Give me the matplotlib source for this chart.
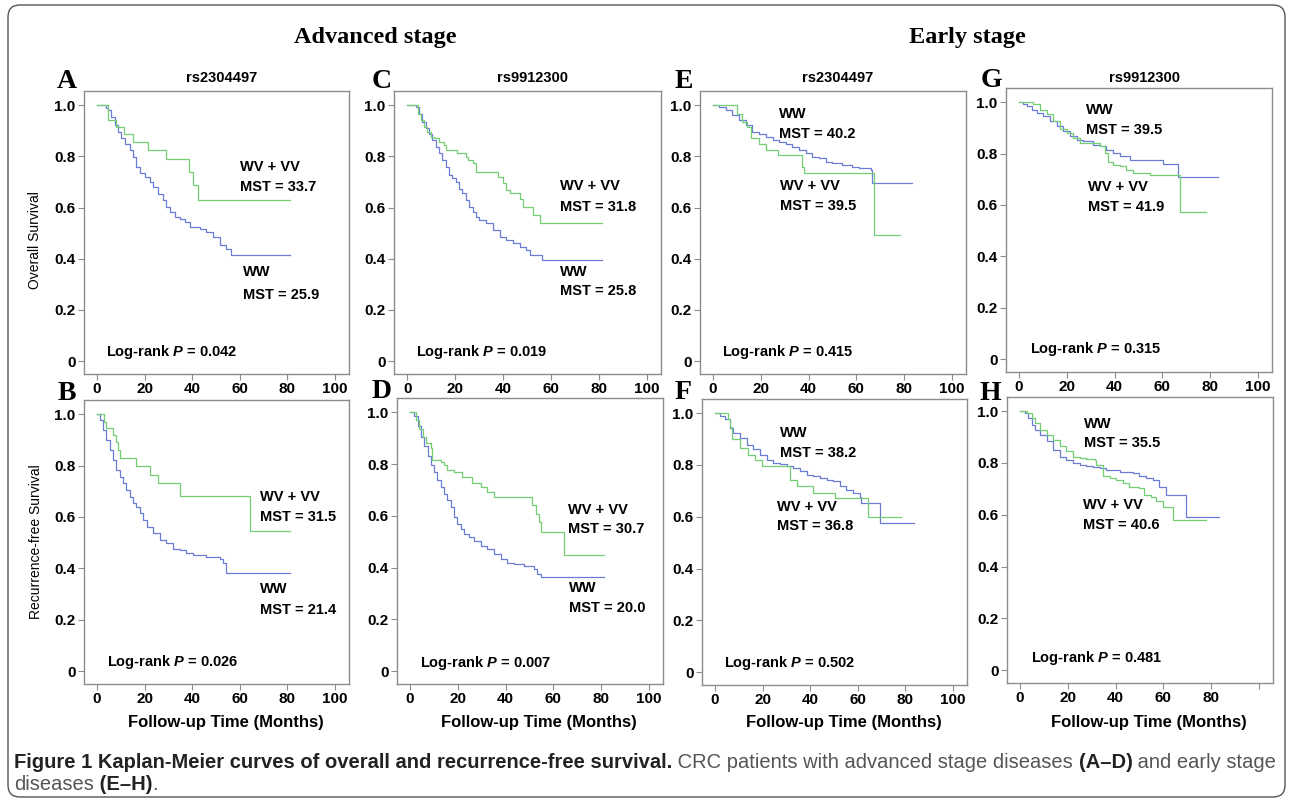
"""Kaplan-Meier curves (overall / recurrence-free survival) for two SNPs, advanced vs early stage."""

import matplotlib
matplotlib.use("Agg")  # headless
import matplotlib.pyplot as plt
from matplotlib.patches import FancyBboxPatch

plt.rcParams["font.family"] = ["Liberation Sans", "DejaVu Sans"]
plt.rcParams["mathtext.fontset"] = "custom"
plt.rcParams["mathtext.it"] = "Liberation Sans:italic:bold"
plt.rcParams["mathtext.rm"] = "Liberation Sans:bold"

W, H = 1292, 801
GREEN = "#74cf74"
BLUE = "#6a7cd6"
GRAY = "#8c8c8c"
SERIF = ["Liberation Serif", "DejaVu Serif"]
NARROW = ["Liberation Sans Narrow", "Liberation Sans", "DejaVu Sans"]

# ---- survival steps (time in months, survival after the step) ----
a_wv_t = [0, 4.6, 7.9, 11.2, 15.1, 21.5, 28.8, 38.7, 40.4, 42.5, 81.0]
a_wv_s = [1.0, 0.94, 0.915, 0.887, 0.857, 0.824, 0.789, 0.74, 0.688, 0.629, 0.629]
a_ww_t = [0, 3.6, 4.6, 6.0, 7.4, 8.8, 10.2, 11.6, 13.7, 15.1, 16.5, 18.0, 20.1, 22.2, 23.6,
          25.7, 27.8, 29.2, 30.6, 32.7, 34.8, 36.9, 39.0, 43.2, 46.0, 48.8, 51.6, 54.4, 56.5, 81.0]
a_ww_s = [1.0, 0.99, 0.98, 0.954, 0.921, 0.895, 0.87, 0.85, 0.824, 0.798, 0.759, 0.733, 0.72, 0.70, 0.68,
          0.654, 0.628, 0.602, 0.583, 0.563, 0.557, 0.544, 0.525, 0.518, 0.505, 0.486, 0.454, 0.439, 0.415, 0.415]

b_wv_t = [0, 2.8, 3.9, 6.7, 8.1, 8.8, 9.5, 16.5, 22.2, 25.7, 34.8, 64.2, 81.3]
b_wv_s = [1.0, 0.971, 0.945, 0.919, 0.893, 0.861, 0.828, 0.798, 0.763, 0.731, 0.681, 0.546, 0.546]
b_ww_t = [0, 1.1, 2.5, 3.9, 5.3, 6.7, 8.1, 9.5, 10.9, 12.3, 13.7, 15.1, 16.5, 18.0, 19.4, 20.8,
          23.6, 26.4, 29.2, 32.0, 34.8, 37.6, 40.4, 46.0, 51.6, 53.0, 54.4, 81.1]
b_ww_s = [1.0, 0.978, 0.939, 0.9, 0.861, 0.822, 0.783, 0.757, 0.731, 0.705, 0.679, 0.653, 0.64, 0.614, 0.588, 0.562,
          0.536, 0.51, 0.498, 0.477, 0.471, 0.458, 0.451, 0.445, 0.438, 0.419, 0.382, 0.382]

c_wv_t = [0, 4.6, 5.6, 7.0, 8.4, 9.8, 11.2, 13.3, 15.4, 16.1, 21.0, 24.5, 25.2, 27.3, 28.8,
          37.9, 40.0, 41.4, 42.8, 47.0, 48.4, 52.6, 55.4, 81.3]
c_wv_s = [1.0, 0.967, 0.941, 0.915, 0.896, 0.876, 0.87, 0.857, 0.844, 0.824, 0.811, 0.798, 0.785, 0.772, 0.74,
          0.72, 0.694, 0.668, 0.655, 0.635, 0.603, 0.57, 0.538, 0.538]
c_ww_t = [0, 3.5, 4.9, 6.3, 7.7, 9.1, 10.5, 11.9, 13.3, 14.7, 16.1, 17.5, 18.9, 20.3, 21.7, 23.1,
          24.5, 25.9, 27.3, 28.8, 30.2, 33.0, 35.8, 38.6, 41.4, 44.2, 47.0, 49.8, 51.2, 56.1, 81.3]
c_ww_s = [1.0, 0.993, 0.967, 0.935, 0.909, 0.889, 0.863, 0.837, 0.811, 0.785, 0.759, 0.727, 0.714, 0.70, 0.674, 0.655,
          0.629, 0.603, 0.583, 0.564, 0.551, 0.538, 0.512, 0.486, 0.473, 0.46, 0.447, 0.434, 0.414, 0.397, 0.397]

d_wv_t = [0, 2.4, 3.8, 5.2, 6.6, 8.6, 9.3, 12.8, 14.2, 15.6, 18.4, 21.9, 26.1, 29.6, 32.4, 35.1,
          51.2, 52.6, 54.0, 54.7, 64.4, 81.2]
d_wv_s = [1.0, 0.971, 0.936, 0.906, 0.881, 0.861, 0.816, 0.809, 0.796, 0.777, 0.77, 0.751, 0.725, 0.712, 0.692, 0.673,
          0.64, 0.608, 0.575, 0.536, 0.449, 0.449]
d_ww_t = [0, 1.7, 3.1, 4.5, 5.9, 7.3, 8.6, 10.0, 11.4, 12.8, 14.2, 15.6, 17.0, 18.4, 19.8, 21.2,
          22.6, 24.7, 26.8, 29.6, 32.4, 35.1, 37.9, 40.7, 43.5, 47.7, 51.9, 53.3, 54.7, 81.2]
d_ww_s = [1.0, 0.984, 0.945, 0.906, 0.868, 0.829, 0.796, 0.77, 0.738, 0.712, 0.686, 0.66, 0.634, 0.595, 0.569, 0.549,
          0.53, 0.517, 0.504, 0.484, 0.471, 0.452, 0.432, 0.419, 0.413, 0.406, 0.394, 0.374, 0.364, 0.364]

e_wv_t = [0, 9.8, 12.3, 14.4, 15.8, 19.3, 22.1, 27.0, 37.2, 38.1, 67.5, 78.2]
e_wv_s = [1.0, 0.967, 0.935, 0.915, 0.87, 0.85, 0.824, 0.805, 0.759, 0.733, 0.492, 0.492]
e_ww_t = [0, 2.5, 5.3, 8.1, 10.9, 13.7, 16.5, 19.3, 22.1, 24.9, 27.7, 30.4, 33.2, 36.0, 38.8, 41.6,
          44.4, 47.2, 50.0, 54.2, 58.4, 61.2, 66.1, 66.8, 83.5]
e_ww_s = [1.0, 0.993, 0.98, 0.961, 0.941, 0.922, 0.896, 0.889, 0.876, 0.863, 0.857, 0.85, 0.837, 0.824, 0.811, 0.798,
          0.792, 0.779, 0.772, 0.766, 0.759, 0.753, 0.746, 0.694, 0.694]

f_wv_t = [0, 5.6, 6.3, 7.0, 10.5, 14.0, 16.8, 19.6, 31.5, 34.3, 41.3, 50.3, 64.3, 78.3]
f_wv_s = [1.0, 0.977, 0.947, 0.899, 0.866, 0.84, 0.821, 0.795, 0.743, 0.717, 0.691, 0.672, 0.598, 0.598]
f_ww_t = [0, 2.1, 4.2, 6.3, 7.7, 10.5, 13.3, 16.1, 18.9, 21.7, 24.5, 27.3, 30.1, 32.9, 35.7, 38.5,
          41.3, 44.1, 46.9, 49.7, 52.4, 55.2, 58.0, 60.8, 61.5, 69.5, 83.9]
f_ww_s = [1.0, 0.99, 0.977, 0.944, 0.925, 0.905, 0.879, 0.86, 0.84, 0.821, 0.808, 0.802, 0.795, 0.789, 0.776, 0.763,
          0.756, 0.75, 0.743, 0.737, 0.717, 0.704, 0.691, 0.678, 0.652, 0.577, 0.577]

g_wv_t = [0, 5.9, 8.7, 11.5, 14.3, 17.1, 19.9, 22.7, 25.5, 33.8, 35.9, 37.3, 39.4, 42.2, 45.0, 47.8,
          54.8, 67.4, 78.3]
g_wv_s = [1.0, 0.991, 0.971, 0.952, 0.926, 0.894, 0.88, 0.861, 0.841, 0.828, 0.802, 0.769, 0.756, 0.75, 0.737, 0.724,
          0.717, 0.574, 0.574]
g_ww_t = [0, 1.7, 3.1, 5.2, 7.3, 10.1, 12.9, 15.7, 18.5, 21.3, 24.1, 26.9, 31.0, 33.8, 36.6, 39.4,
          42.2, 46.4, 60.4, 66.7, 83.5]
g_ww_s = [1.0, 0.991, 0.984, 0.971, 0.958, 0.945, 0.926, 0.906, 0.887, 0.867, 0.854, 0.847, 0.834, 0.828, 0.815, 0.802,
          0.789, 0.776, 0.76, 0.708, 0.708]

h_wv_t = [0, 2.8, 4.9, 6.3, 8.3, 11.1, 13.9, 16.7, 19.4, 22.2, 25.0, 27.8, 31.3, 31.9, 34.7, 37.5,
          40.3, 43.1, 45.8, 50.0, 52.1, 54.9, 56.9, 59.7, 63.9, 77.8]
h_wv_s = [1.0, 0.994, 0.974, 0.955, 0.929, 0.909, 0.89, 0.864, 0.845, 0.825, 0.819, 0.815, 0.812, 0.793, 0.748, 0.741,
          0.735, 0.722, 0.709, 0.702, 0.677, 0.668, 0.655, 0.631, 0.58, 0.58]
h_ww_t = [0, 2.1, 3.5, 4.9, 6.3, 8.3, 11.1, 13.9, 16.7, 19.4, 22.2, 25.0, 27.8, 30.6, 33.3, 36.1,
          41.7, 47.2, 50.0, 52.8, 55.6, 58.3, 61.1, 69.7, 83.3]
h_ww_s = [1.0, 0.994, 0.974, 0.948, 0.929, 0.909, 0.884, 0.851, 0.825, 0.812, 0.799, 0.793, 0.789, 0.786, 0.78, 0.774,
          0.767, 0.761, 0.748, 0.741, 0.735, 0.709, 0.677, 0.593, 0.593]

# ---- labels per panel (A..H) ----
letters = ["A", "B", "C", "D", "E", "F", "G", "H"]
snps = ["rs2304497", None, "rs9912300", None, "rs2304497", None, "rs9912300", None]
mst_ww = ["25.9", "21.4", "25.8", "20.0", "40.2", "38.2", "39.5", "35.5"]
mst_wv = ["33.7", "31.5", "31.8", "30.7", "39.5", "36.8", "41.9", "40.6"]
p_values = ["0.042", "0.026", "0.019", "0.007", "0.415", "0.502", "0.315", "0.481"]
x_ticks = [0, 20, 40, 60, 80, 100]
y_ticks = [0, 0.2, 0.4, 0.6, 0.8, 1.0]
y_tick_labels = ["0", "0.2", "0.4", "0.6", "0.8", "1.0"]

curves = [
    (a_ww_t, a_ww_s, a_wv_t, a_wv_s), (b_ww_t, b_ww_s, b_wv_t, b_wv_s),
    (c_ww_t, c_ww_s, c_wv_t, c_wv_s), (d_ww_t, d_ww_s, d_wv_t, d_wv_s),
    (e_ww_t, e_ww_s, e_wv_t, e_wv_s), (f_ww_t, f_ww_s, f_wv_t, f_wv_s),
    (g_ww_t, g_ww_s, g_wv_t, g_wv_s), (h_ww_t, h_ww_s, h_wv_t, h_wv_s),
]

# ---- layout (pixels: left, top, right, bottom) and label anchors in data coords ----
boxes = [(84, 91, 349, 374), (84, 400, 349, 684), (394, 91, 661, 374), (397, 398, 663, 684),
         (700, 91, 966, 374), (702, 399, 967, 685), (1006, 88, 1272, 372), (1007, 397, 1273, 683)]
letter_pos = [(57, 88), (58, 400), (372, 88), (372, 398), (675, 88), (675, 399), (981, 87), (980, 400)]
ww_pos = [(61.2, 0.349, 0.258), (68.4, 0.321, 0.239), (63.8, 0.349, 0.273), (66.5, 0.322, 0.244),
          (27.7, 0.967, 0.887), (27.3, 0.925, 0.847), (28.0, 0.971, 0.890), (26.7, 0.952, 0.877)]
wv_pos = [(60.0, 0.759, 0.681), (68.4, 0.679, 0.601), (63.8, 0.684, 0.603), (66.1, 0.621, 0.549),
          (28.0, 0.684, 0.607), (26.2, 0.637, 0.566), (28.7, 0.671, 0.593), (26.4, 0.638, 0.560)]
p_pos = [(3.8, 0.035), (4.0, 0.035), (3.8, 0.035), (4.2, 0.032),
         (3.8, 0.035), (3.9, 0.036), (4.5, 0.040), (4.4, 0.045)]

fig = plt.figure(figsize=(W / 100, H / 100), dpi=100)


def fx(px):
    return px / W


def fy(py):
    return 1 - py / H


for i, (l, t, r, b) in enumerate(boxes):
    ax = fig.add_axes([fx(l), fy(b), (r - l) / W, (b - t) / H])
    ww_t, ww_s, wv_t, wv_s = curves[i]
    ax.step(ww_t, ww_s, where="post", color=BLUE, lw=0.9)
    ax.step(wv_t, wv_s, where="post", color=GREEN, lw=0.9)
    ax.set_xlim(-5.5, 106)
    ax.set_ylim(-0.05, 1.055)
    ax.set_xticks(x_ticks)
    xl = [str(v) for v in x_ticks]
    if letters[i] == "H":
        xl[-1] = ""
    ax.set_xticklabels(xl, fontweight="bold")
    ax.set_yticks(y_ticks)
    ax.set_yticklabels(y_tick_labels, fontweight="bold")
    ax.tick_params(length=4, width=0.8, color=GRAY, labelsize=11, pad=2)
    for sp in ax.spines.values():
        sp.set_color(GRAY)
        sp.set_linewidth(1.0)

    x, y1, y2 = ww_pos[i]
    ax.text(x, y1, "WW", fontsize=10.5, fontweight="bold", va="center")
    ax.text(x, y2, "MST = " + mst_ww[i], fontsize=10.5, fontweight="bold", va="center")
    x, y1, y2 = wv_pos[i]
    ax.text(x, y1, "WV + VV", fontsize=10.5, fontweight="bold", va="center")
    ax.text(x, y2, "MST = " + mst_wv[i], fontsize=10.5, fontweight="bold", va="center")
    px_, py_ = p_pos[i]
    ax.text(px_, py_, "Log-rank $P$ = " + p_values[i], fontsize=10.5, fontweight="bold", va="center")

    if snps[i]:
        fig.text(fx((l + r) / 2 + 5), fy(78), snps[i], fontsize=10.5, fontweight="bold",
                 ha="center", va="center")
    lx, ly = letter_pos[i]
    fig.text(fx(lx), fy(ly), letters[i], family=SERIF, fontsize=20, fontweight="bold",
             ha="left", va="baseline")
    if i % 2 == 1:
        fig.text(fx((l + r) / 2 + 9), fy(723), "Follow-up Time (Months)", family=NARROW,
                 fontsize=12, fontweight="bold", ha="center", va="center")

fig.text(fx(35), fy(240), "Overall Survival", fontsize=10, rotation=90, ha="center", va="center")
fig.text(fx(36), fy(542), "Recurrence-free Survival", fontsize=10, rotation=90, ha="center", va="center")
fig.text(fx(375), fy(38), "Advanced stage", family=SERIF, fontsize=17.5, fontweight="bold",
         ha="center", va="center")
fig.text(fx(967), fy(38), "Early stage", family=SERIF, fontsize=17.5, fontweight="bold",
         ha="center", va="center")

# ---- caption, drawn as runs of bold / regular text ----
renderer = fig.canvas.get_renderer()
DARK, GREY_TXT = "#222222", "#555555"


def draw_runs(x_px, y_px, runs, size):
    x = x_px
    for text, weight, color in runs:
        t = fig.text(fx(x), fy(y_px), text, family=NARROW, fontsize=size, fontweight=weight,
                     color=color, ha="left", va="center")
        x += t.get_window_extent(renderer=renderer).width
    return x


line1 = [("Figure 1 Kaplan-Meier curves of overall and recurrence-free survival.", "bold", DARK),
         (" CRC patients with advanced stage diseases ", "normal", GREY_TXT),
         ("(A\u2013D)", "bold", DARK),
         (" and early stage", "normal", GREY_TXT)]
line2 = [("diseases", "normal", GREY_TXT), (" (E\u2013H)", "bold", DARK), (".", "normal", GREY_TXT)]
draw_runs(14, 762, line1, 14.5)
draw_runs(14, 785, line2, 14.5)

border = FancyBboxPatch((0.08, 0.04), 12.77, 7.92, boxstyle="round,pad=0,rounding_size=0.12",
                        transform=fig.dpi_scale_trans, fill=False, ec="#555555", lw=1.0)
fig.patches.append(border)

fig.savefig("out.png", dpi=100)
